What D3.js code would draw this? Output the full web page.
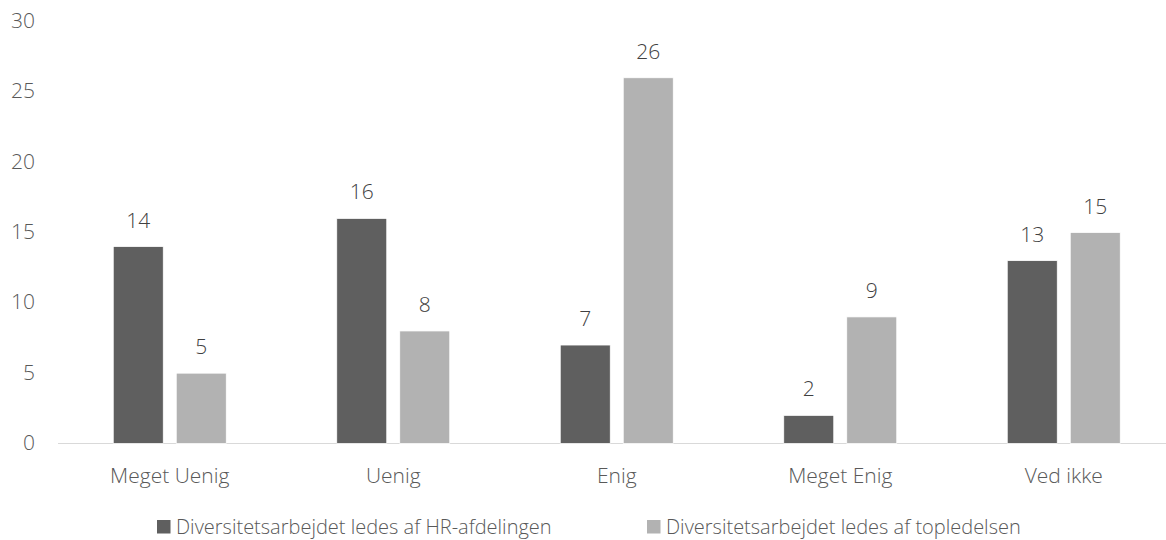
<!DOCTYPE html>
<html>
<head>
<meta charset="utf-8">
<script src="https://cdn.jsdelivr.net/npm/d3@7"></script>
<style>
  body { margin: 0; background: #fff; }
  text { font-family: "Open Sans", Lato, sans-serif; font-weight: 300; }
</style>
</head>
<body>
<div id="chart"></div>
<script>
// data
var categories = ["Meget Uenig", "Uenig", "Enig", "Meget Enig", "Ved ikke"];
var seriesNames = ["Diversitetsarbejdet ledes af HR-afdelingen", "Diversitetsarbejdet ledes af topledelsen"];
var hrValues = [14, 16, 7, 2, 13];
var topValues = [5, 8, 26, 9, 15];
var yTicks = [0, 5, 10, 15, 20, 25, 30];
var colors = ["#5f5f5f", "#b2b2b2"];

var svgWidth = 1166;
var svgHeight = 540;

var svg = d3.select("#chart")
  .append("svg")
  .attr("width", svgWidth)
  .attr("height", svgHeight);

// plot area
var x0 = d3.scaleBand()
  .domain(categories)
  .range([58, 1175.5]);

var x1 = d3.scaleBand()
  .domain([0, 1])
  .range([-56.5, 56.5])
  .paddingInner(13 / 63);

var y = d3.scaleLinear()
  .domain([0, 30])
  .range([443.5, 21.5]);

var rows = categories.map(function(c, i) {
  return { cat: c, vals: [hrValues[i], topValues[i]] };
});

// y tick labels
svg.append("g")
  .selectAll("text")
  .data(yTicks)
  .enter()
  .append("text")
  .attr("x", 35)
  .attr("y", d => y(d) + 6.5)
  .attr("text-anchor", "end")
  .attr("font-size", 21)
  .attr("fill", "#595959")
  .text(d => d);

// baseline
svg.append("line")
  .attr("x1", 58)
  .attr("x2", svgWidth)
  .attr("y1", y(0))
  .attr("y2", y(0))
  .attr("stroke", "#d9d9d9")
  .attr("stroke-width", 1);

// bars
var groups = svg.append("g")
  .selectAll("g")
  .data(rows)
  .enter()
  .append("g")
  .attr("transform", d => `translate(${x0(d.cat) + x0.bandwidth() / 2}, 0)`);

groups.selectAll("rect")
  .data(d => d.vals.map((v, k) => ({ k: k, v: v })))
  .enter()
  .append("rect")
  .attr("x", d => x1(d.k))
  .attr("y", d => y(d.v))
  .attr("width", x1.bandwidth())
  .attr("height", d => y(0) - y(d.v))
  .attr("fill", d => colors[d.k])
  .attr("stroke", "#fff")
  .attr("stroke-width", 0.75);

// value labels
groups.selectAll("text")
  .data(d => d.vals.map((v, k) => ({ k: k, v: v })))
  .enter()
  .append("text")
  .attr("x", d => x1(d.k) + x1.bandwidth() / 2)
  .attr("y", d => y(d.v) - 19)
  .attr("text-anchor", "middle")
  .attr("font-size", 21)
  .attr("fill", "#404040")
  .text(d => d.v);

// category labels
svg.append("g")
  .selectAll("text")
  .data(categories)
  .enter()
  .append("text")
  .attr("x", d => x0(d) + x0.bandwidth() / 2)
  .attr("y", 482.5)
  .attr("text-anchor", "middle")
  .attr("font-size", 21)
  .attr("fill", "#595959")
  .text(d => d);

// legend
var legendX = [157, 647];
var legend = svg.append("g")
  .selectAll("g")
  .data(seriesNames)
  .enter()
  .append("g")
  .attr("transform", (d, i) => `translate(${legendX[i]}, 533.5)`);

legend.append("rect")
  .attr("x", 0)
  .attr("y", -13.5)
  .attr("width", 13.5)
  .attr("height", 13.5)
  .attr("fill", (d, i) => colors[i]);

legend.append("text")
  .attr("x", 19)
  .attr("y", 0)
  .attr("font-size", 20)
  .attr("fill", "#595959")
  .text(d => d);
</script>
</body>
</html>
